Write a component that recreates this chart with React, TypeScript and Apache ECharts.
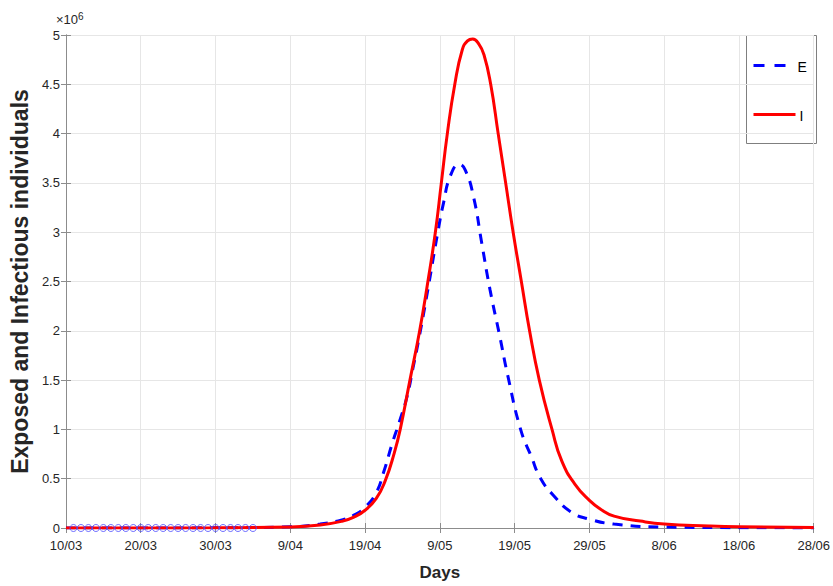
import React, { useEffect, useRef } from "react";
import * as echarts from "echarts";

const xTickLabels = ["10/03", "20/03", "30/03", "9/04", "19/04", "9/05", "19/05", "29/05", "8/06", "18/06", "28/06"];

const exposedDays = [0, 10, 20, 30, 34, 37, 38.5, 40, 41.5, 42.5, 43.6, 44.6, 45.6, 46.4, 47.2, 48.4, 49.7, 50.5, 51.4, 52.6, 53.4, 54.5, 55.6, 56.7, 58.0, 59.1, 60.8, 62.2, 63.5, 65.2, 67.6, 70, 73.3, 80, 90, 100];
const exposedValues = [0, 0.0005, 0.002, 0.012, 0.04, 0.085, 0.13, 0.21, 0.36, 0.57, 0.85, 1.08, 1.33, 1.62, 1.92, 2.42, 2.99, 3.3, 3.57, 3.69, 3.63, 3.36, 2.89, 2.42, 1.95, 1.54, 1.0, 0.73, 0.5, 0.33, 0.16, 0.09, 0.04, 0.01, 0.003, 0.001];

const infectiousDays = [0, 10, 20, 30, 34, 37, 38.5, 40, 41.5, 42.7, 43.9, 44.7, 46.0, 47.3, 48.4, 49.4, 50.2, 51.0, 52.0, 53.0, 53.7, 54.4, 55.2, 55.9, 56.8, 57.8, 58.8, 59.8, 60.9, 62.0, 63.3, 65.0, 66.3, 68.1, 70, 71.5, 73.3, 76.8, 80, 86, 90, 100];
const infectiousValues = [0, 0.0005, 0.002, 0.01, 0.03, 0.07, 0.11, 0.18, 0.3, 0.48, 0.76, 1.0, 1.5, 2.0, 2.5, 3.0, 3.5, 4.0, 4.5, 4.85, 4.94, 4.96, 4.91, 4.8, 4.5, 4.0, 3.5, 3.0, 2.5, 2.0, 1.5, 1.0, 0.68, 0.44, 0.28, 0.19, 0.12, 0.07, 0.04, 0.02, 0.012, 0.004];

const observedDays = [1, 2, 3, 4, 5, 6, 7, 8, 9, 10, 11, 12, 13, 14, 15, 16, 17, 18, 19, 20, 21, 22, 23, 24, 25];
const observedValues = [0, 0, 0, 0, 0, 0, 0, 0, 0, 0, 0, 0, 0, 0, 0, 0, 0, 0, 0, 0, 0, 0, 0, 0, 0];

const legendNames = ["E", "I"];

const SANS = "'Liberation Sans', Arial, Helvetica, sans-serif";

export default function App() {
  const ref = useRef<HTMLDivElement>(null);
  useEffect(() => {
    if (!ref.current) return;
    const chart = echarts.init(ref.current, null, { renderer: "svg" });
    const pair = (xs: number[], ys: number[]) => xs.map((x, i) => [x, ys[i]]);
    const axisLine = { show: true, lineStyle: { color: "#8c8c8c", width: 1 } };
    const ticks = { show: true, inside: true, length: 5, lineStyle: { color: "#8c8c8c" } };
    chart.setOption({
      animation: false,
      backgroundColor: "#ffffff",
      grid: { left: 54, top: 35, right: 16, bottom: 57, containLabel: false },
      xAxis: [
        {
          type: "value",
          min: 0,
          max: 100,
          interval: 10,
          axisLine,
          axisTick: ticks,
          splitLine: { show: true, lineStyle: { color: "#e6e6e6", width: 1 } },
          axisLabel: {
            margin: 11,
            color: "#262626",
            fontFamily: SANS,
            fontSize: 13,
            formatter: (v: number) => xTickLabels[Math.round(v / 10)] ?? "",
          },
          name: "Days",
          nameLocation: "middle",
          nameGap: 36,
          nameTextStyle: { fontFamily: SANS, fontWeight: "bold", fontSize: 17, color: "#262626", verticalAlign: "top" },
        },
        {
          type: "value",
          position: "top",
          min: 0,
          max: 100,
          interval: 10,
          axisLine,
          axisTick: ticks,
          splitLine: { show: false },
          axisLabel: { show: false },
        },
      ],
      yAxis: [
        {
          type: "value",
          min: 0,
          max: 5,
          interval: 0.5,
          axisLine,
          axisTick: ticks,
          splitLine: { show: true, lineStyle: { color: "#e6e6e6", width: 1 } },
          axisLabel: { margin: 6, color: "#262626", fontFamily: SANS, fontSize: 13 },
          name: "Exposed and Infectious individuals",
          nameLocation: "middle",
          nameGap: 21,
          nameRotate: 90,
          nameTextStyle: { fontFamily: SANS, fontWeight: "bold", fontSize: 23, color: "#262626" },
        },
        {
          type: "value",
          position: "right",
          min: 0,
          max: 5,
          interval: 0.5,
          axisLine,
          axisTick: ticks,
          splitLine: { show: false },
          axisLabel: { show: false },
        },
      ],
      graphic: [
        {
          type: "text",
          left: 56,
          top: 11,
          style: {
            text: "×10{s|6}",
            fontFamily: SANS,
            fontSize: 13,
            fill: "#262626",
            rich: { s: { fontSize: 10, fontFamily: SANS, fill: "#262626", verticalAlign: "top", padding: [0, 0, 7, 0] } },
          },
        },
        {
          type: "group",
          left: 746,
          top: 35,
          children: [
            { type: "rect", shape: { x: 0, y: 0, width: 70, height: 108 }, style: { fill: "#ffffff", stroke: "#7f7f7f", lineWidth: 1 } },
            { type: "line", shape: { x1: 7, y1: 30, x2: 39, y2: 30 }, style: { stroke: "#0000ff", lineWidth: 3, lineDash: [11, 10] } },
            { type: "text", x: 51, y: 31, style: { text: legendNames[0], fontFamily: SANS, fontSize: 14, fill: "#000", verticalAlign: "middle" } },
            { type: "line", shape: { x1: 7, y1: 79, x2: 49, y2: 79 }, style: { stroke: "#ff0000", lineWidth: 3 } },
            { type: "text", x: 53, y: 80, style: { text: legendNames[1], fontFamily: SANS, fontSize: 14, fill: "#000", verticalAlign: "middle" } },
          ],
        },
      ],
      series: [
        {
          name: "E",
          type: "line",
          data: pair(exposedDays, exposedValues),
          showSymbol: false,
          symbol: "none",
          smooth: 0.5,
          lineStyle: { color: "#0000ff", width: 3, type: [10, 8] },
          itemStyle: { color: "#0000ff" },
          z: 3,
        },
        {
          name: "I",
          type: "line",
          data: pair(infectiousDays, infectiousValues),
          showSymbol: false,
          symbol: "none",
          smooth: 0.5,
          lineStyle: { color: "#ff0000", width: 3 },
          itemStyle: { color: "#ff0000" },
          z: 4,
        },
        {
          name: "Observed",
          type: "scatter",
          data: pair(observedDays, observedValues),
          symbol: "circle",
          symbolSize: 7,
          itemStyle: { color: "rgba(255,255,255,0)", borderColor: "#4a4aff", borderWidth: 1 },
          z: 5,
        },
      ],
    });
    return () => chart.dispose();
  }, []);
  return <div ref={ref} style={{ width: 833, height: 586, position: "absolute", left: 0, top: 0 }} />;
}
